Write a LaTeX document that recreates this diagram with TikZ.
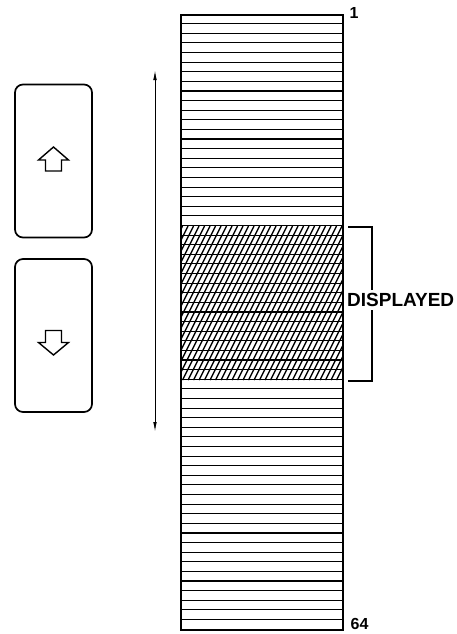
\documentclass[tikz,border=0pt]{standalone}
\usepackage{fontspec}
\setmainfont{Liberation Sans}
\usetikzlibrary{arrows.meta,positioning}

\begin{document}
\begin{tikzpicture}[x=1pt,y=-1pt,
  key/.style={draw, line width=1.7pt, rounded corners=8pt, minimum width=77pt, minimum height=153pt},
  glyph/.style={draw, line width=1.4pt, line join=miter},
  rowline/.style={line width=1.1pt},
  hatch/.style={line width=1.4pt},
  lbl/.style={font=\bfseries\fontsize{16}{16}\selectfont, inner sep=0pt},
  >={Latex[length=10pt,width=3.6pt]}
]
\useasboundingbox (0,0) rectangle (457,634);

% scroll keys
\node[key] (up) at (53.5,161) {};
\node[key] (down) at (53.5,335.5) {};
\draw[glyph] (up.center) ++(0,-14) -- ++(15,13) -- ++(-7,0) -- ++(0,11) -- ++(-16,0) -- ++(0,-11) -- ++(-7,0) -- cycle;
\draw[glyph] (down.center) ++(0,19.5) -- ++(15,-12.5) -- ++(-7,0) -- ++(0,-12) -- ++(-16,0) -- ++(0,12) -- ++(-7,0) -- cycle;

% the 64 lines of the buffer
\node[draw, line width=1.8pt, minimum width=162pt, minimum height=615pt, inner sep=0pt] (buffer) at (262,322.5) {};
\begin{scope}
  \clip (181,226.4) rectangle (343,380.1);
  \foreach \x in {100,105.5,...,345}
    \draw[hatch] (\x,380.1) -- ++(77,-154);
\end{scope}
\foreach \i in {1,...,63}
  \draw[rowline] (buffer.north west) ++(0,{\i*9.609}) -- ++(162,0);
\node[lbl] (first) at (354,13) {1};
\node[lbl] (last) at (359.5,624) {64};

% scroll range
\coordinate (scrolltop) at (155,70);
\coordinate (scrollbot) at (155,432);
\draw[<->, line width=1pt] (scrolltop) -- (scrollbot);

% window on screen
\coordinate (wintop) at (348,227);
\coordinate (winbot) at (348,381);
\draw[line width=1.7pt] (wintop) -- ++(24,0) |- (winbot);
\node[anchor=west, fill=white, inner xsep=0pt, inner ysep=3pt, font=\bfseries\fontsize{19}{19}\selectfont] (shown) at (347,300) {DISPLAYED};
\end{tikzpicture}
\end{document}
